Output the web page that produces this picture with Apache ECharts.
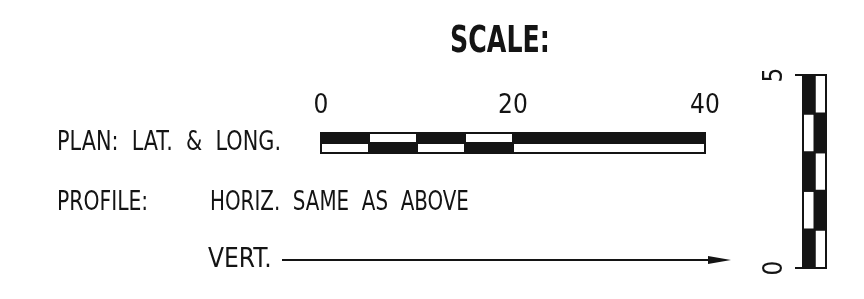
<!DOCTYPE html>
<html>
<head>
<meta charset="utf-8">
<script src="https://cdn.jsdelivr.net/npm/echarts@6/dist/echarts.min.js"></script>
<style>
  html, body { margin: 0; padding: 0; background: #fff; }
  #chart { width: 864px; height: 299px; }
</style>
</head>
<body>
<div id="chart"></div>
<script>
// horizontal scale (plan), units along the bar
var hBreaks = [0, 5, 10, 15, 20, 40];
var hTopFill = ['k', 'w', 'k', 'w', 'k'];
var hBottomFill = ['w', 'k', 'w', 'k', 'w'];
var hLabels = [0, 20, 40];

// vertical scale (profile vert.)
var vBreaks = [0, 1, 2, 3, 4, 5];
var vLeftFill = ['k', 'w', 'k', 'w', 'k'];
var vRightFill = ['w', 'k', 'w', 'k', 'w'];
var vLabels = [0, 5];

var FONT = '"DejaVu Sans Condensed", "DejaVu Sans", sans-serif';
var INK = '#141414';

function cells(breaks, rowA, rowB) {
    var out = [];
    for (var i = 0; i < breaks.length - 1; i++) {
        out.push([breaks[i], breaks[i + 1], 1, rowA[i]]);
        out.push([breaks[i], breaks[i + 1], 0, rowB[i]]);
    }
    return out;
}

var hCells = cells(hBreaks, hTopFill, hBottomFill);
var vCells = cells(vBreaks, vRightFill, vLeftFill);

// plain text block, squeezed a little to the narrow lettering of the drawing
function label(text, x, y, size, sx, align, weight) {
    return {
        type: 'text', x: x, y: y, scaleX: sx,
        style: {
            text: text, fontSize: size, fontFamily: FONT, fontWeight: weight || 'normal',
            fill: INK, align: align || 'left', verticalAlign: 'middle'
        }
    };
}

var chart = echarts.init(document.getElementById('chart'));

chart.setOption({
    animation: false,
    grid: [
        {left: 321, top: 133, width: 384, height: 20},
        {left: 803, top: 75, width: 23, height: 193}
    ],
    xAxis: [
        {
            gridIndex: 0, type: 'value', min: 0, max: 40, interval: 20, position: 'top',
            splitLine: {show: false},
            axisLine: {show: false},
            axisTick: {show: true, length: 9, lineStyle: {color: INK, width: 2}},
            axisLabel: {
                show: true, margin: 27, fontSize: 26, fontFamily: FONT, color: INK,
                verticalAlign: 'middle',
                formatter: function (v) { return hLabels.indexOf(v) >= 0 ? String(v) : ''; }
            }
        },
        {gridIndex: 1, type: 'value', min: 0, max: 2, show: false}
    ],
    yAxis: [
        {gridIndex: 0, type: 'value', min: 0, max: 2, show: false},
        {
            gridIndex: 1, type: 'value', min: 0, max: 5, interval: 5, position: 'left',
            splitLine: {show: false},
            axisLine: {show: false},
            axisTick: {show: true, length: 8, lineStyle: {color: INK, width: 2}},
            axisLabel: {
                show: true, margin: 15, fontSize: 26, fontFamily: FONT, color: INK, rotate: 90,
                formatter: function (v) { return vLabels.indexOf(v) >= 0 ? String(v) : ''; }
            }
        }
    ],
    series: [
        {
            type: 'custom', xAxisIndex: 0, yAxisIndex: 0, data: hCells,
            renderItem: function (params, api) {
                var p0 = api.coord([api.value(0), api.value(2) + 1]);
                var p1 = api.coord([api.value(1), api.value(2)]);
                return {
                    type: 'rect',
                    shape: {x: p0[0], y: p0[1], width: p1[0] - p0[0], height: p1[1] - p0[1]},
                    style: {fill: api.value(3) === 'k' ? INK : '#fff', stroke: INK, lineWidth: 2}
                };
            }
        },
        {
            type: 'custom', xAxisIndex: 1, yAxisIndex: 1, data: vCells,
            renderItem: function (params, api) {
                var p0 = api.coord([api.value(2), api.value(1)]);
                var p1 = api.coord([api.value(2) + 1, api.value(0)]);
                return {
                    type: 'rect',
                    shape: {x: p0[0], y: p0[1], width: p1[0] - p0[0], height: p1[1] - p0[1]},
                    style: {fill: api.value(3) === 'k' ? INK : '#fff', stroke: INK, lineWidth: 2}
                };
            }
        }
    ],
    graphic: [
        label('SCALE:', 500, 42, 37, 0.76, 'center', 'bold'),
        label('PLAN:  LAT.  &  LONG.', 57, 143, 26, 0.89),
        label('PROFILE:', 57, 203, 26, 0.87),
        label('HORIZ.  SAME  AS  ABOVE', 210, 203, 26, 0.85),
        label('VERT.', 208, 260, 26, 1),
        {type: 'line', shape: {x1: 282, y1: 260, x2: 712, y2: 260}, style: {stroke: INK, lineWidth: 2}},
        {type: 'polygon', shape: {points: [[708, 256], [731, 260], [708, 264]]}, style: {fill: INK}}
    ]
});
</script>
</body>
</html>
